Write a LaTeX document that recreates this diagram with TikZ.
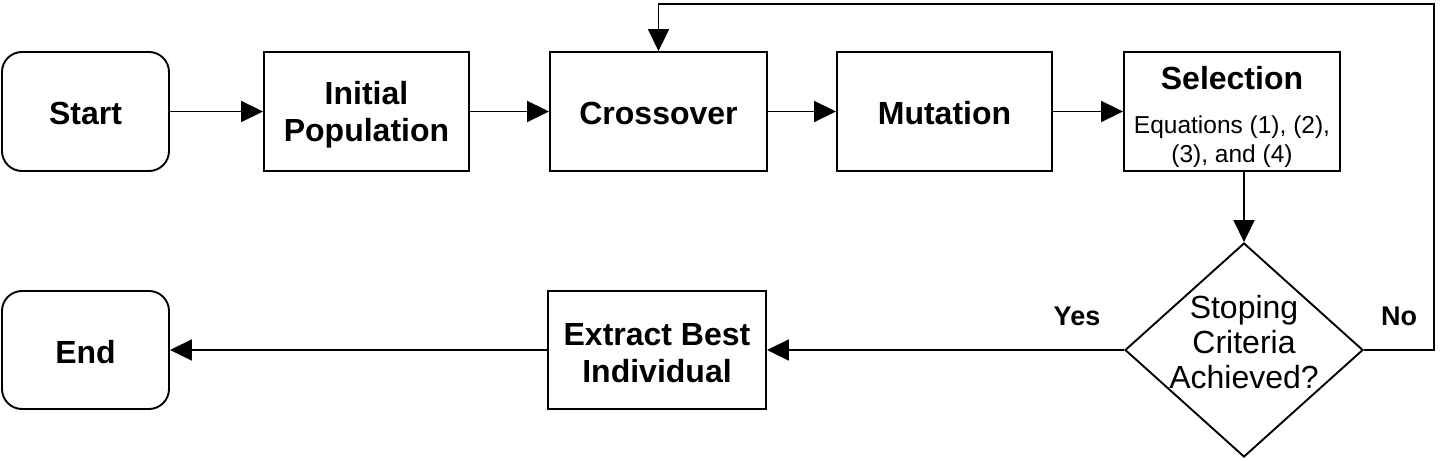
\documentclass[tikz,border=0pt]{standalone}
\usepackage{fontspec}
\setmainfont{Liberation Sans}
\usetikzlibrary{shapes.geometric,arrows.meta}
\begin{document}
\begin{tikzpicture}[x=1pt,y=-1pt,
  box/.style={draw, line width=1.9pt, rectangle, inner sep=0pt, minimum height=119pt},
  term/.style={box, rounded corners=20pt},
  lbl/.style={font=\fontsize{32}{37}\selectfont\bfseries, align=center},
  arr/.style={line width=1.9pt, -{Triangle[length=22pt,width=21pt]}},
  ln/.style={line width=1.9pt}]
\useasboundingbox (0,0) rectangle (1440,462);
\node[term, minimum width=167pt] (start) at (85.5,111.5) {};
\node[lbl] (starttxt) at (85.5,113) {Start};
\node[box, minimum width=205pt] (init) at (366.5,111.5) {};
\node[lbl] (inittxt) at (366.5,115) {Initial\\Population};
\node[box, minimum width=217pt] (cross) at (658.5,111.5) {};
\node[lbl] (crosstxt) at (658.5,113) {Crossover};
\node[box, minimum width=215pt] (mut) at (944.5,111.5) {};
\node[lbl] (muttxt) at (944.5,113) {Mutation};
\node[box, minimum width=216pt] (sel) at (1232,111.5) {};
\node[lbl, anchor=base] (seltxt) at (1232,90) {Selection};
\node[font=\fontsize{24.5}{29}\selectfont, align=center] (eqtxt) at (1232,142) {Equations (1), (2),\\(3), and (4)};
\node[draw, line width=1.9pt, diamond, inner sep=0pt, minimum width=238pt, minimum height=214pt] (dia) at (1244,350) {};
\node[font=\fontsize{32}{35}\selectfont, align=center] (diatxt) at (1244,342) {Stoping\\Criteria\\Achieved?};
\node[box, minimum width=218pt, minimum height=118pt] (ext) at (657,350) {};
\node[lbl] (exttxt) at (657,353) {Extract Best\\Individual};
\node[term, minimum width=167pt, minimum height=118pt] (end) at (85.5,350) {};
\node[lbl] (endtxt) at (85.5,352) {End};
\node[font=\fontsize{27}{30}\selectfont\bfseries] (yes) at (1077,316) {Yes};
\node[font=\fontsize{27}{30}\selectfont\bfseries] (no) at (1399,316) {No};
\coordinate (fb) at (1434,4);
\draw[arr] (start) -- (init);
\draw[arr] (init) -- (cross);
\draw[arr] (cross) -- (mut);
\draw[arr] (mut) -- (sel);
\draw[arr] (dia.north |- sel.south) -- (dia.north);
\draw[arr] (dia.west) -- (ext.east);
\draw[arr] (ext.west) -- (end.east);
\draw[arr] (dia.east) -| (fb) -| (cross.north);
\end{tikzpicture}
\end{document}
